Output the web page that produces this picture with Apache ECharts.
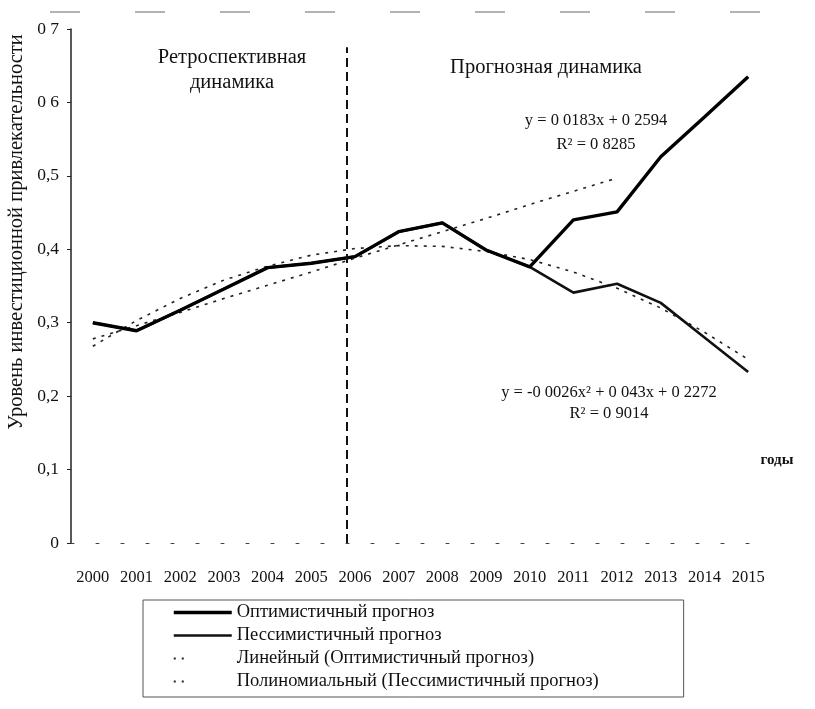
<!DOCTYPE html>
<html>
<head>
<meta charset="utf-8">
<script src="https://cdn.jsdelivr.net/npm/echarts@6/dist/echarts.min.js"></script>
<style>
  html, body { margin: 0; padding: 0; background: #fff; }
  #chart { width: 815px; height: 709px; }
</style>
</head>
<body>
<div id="chart"></div>
<script>
var years = ['2000', '2001', '2002', '2003', '2004', '2005', '2006', '2007',
             '2008', '2009', '2010', '2011', '2012', '2013', '2014', '2015'];
var optimistic = [0.300, 0.289, 0.317, 0.346, 0.375, 0.381, 0.390, 0.424,
                  0.436, 0.399, 0.376, 0.440, 0.451, 0.526, 0.580, 0.635];
var pessimistic = [0.300, 0.289, 0.317, 0.346, 0.375, 0.381, 0.390, 0.424,
                   0.436, 0.399, 0.376, 0.341, 0.353, 0.327, 0.280, 0.233];
// трендовые линии (линейная видна до 2012)
var linearTrend = [0.278, 0.296, 0.314, 0.333, 0.351, 0.369, 0.388, 0.406,
                   0.424, 0.442, 0.461, 0.479, 0.497, null, null, null];
var polyTrend = [0.268, 0.303, 0.333, 0.358, 0.377, 0.392, 0.401, 0.405,
                 0.404, 0.397, 0.386, 0.369, 0.347, 0.320, 0.287, 0.250];
var yTickLabels = ['0', '0,1', '0,2', '0,3', '0,4', '0,5', '0 6', '0 7'];
var seriesNames = ['Оптимистичный прогноз', 'Пессимистичный прогноз',
                   'Линейный (Оптимистичный прогноз)', 'Полиномиальный (Пессимистичный прогноз)'];

var serif = 'Liberation Serif';
var chart = echarts.init(document.getElementById('chart'));

chart.setOption({
    animation: false,
    backgroundColor: '#fff',
    color: ['#111', '#111', '#111', '#111'],
    textStyle: { fontFamily: serif, color: '#111' },
    grid: { left: 71, right: 45, top: 29, bottom: 166 },
    xAxis: [{
        type: 'category',
        data: years,
        boundaryGap: true,
        axisLine: { lineStyle: { color: '#444', width: 1, type: [3, 22] } },
        axisTick: { show: false },
        axisLabel: { fontFamily: serif, fontSize: 16.5, color: '#111', margin: 26, interval: 0 }
    }, {
        // скрытая ось для вертикальной границы периодов
        type: 'value', min: -0.5, max: 15.5, show: false
    }],
    yAxis: {
        type: 'value',
        min: 0,
        max: 0.7,
        interval: 0.1,
        splitLine: { show: false },
        axisLine: { show: true, onZero: false, lineStyle: { color: '#222', width: 1.5 } },
        axisTick: { show: true, length: 4, lineStyle: { color: '#222' } },
        axisLabel: {
            fontFamily: serif, fontSize: 17.5, color: '#111', margin: 12,
            formatter: function (v) { return yTickLabels[Math.round(v * 10)]; }
        }
    },
    legend: {
        orient: 'vertical',
        left: 143,
        top: 600,
        padding: [3, 85, 6, 29],
        itemGap: 4,
        itemWidth: 58,
        itemHeight: 14,
        borderColor: '#555',
        borderWidth: 1,
        itemStyle: { opacity: 0 },
        textStyle: { fontFamily: serif, fontSize: 18.5, lineHeight: 18, color: '#111' },
        data: [
            { name: seriesNames[0], lineStyle: { width: 3.5, color: '#000' } },
            { name: seriesNames[1], lineStyle: { width: 2.5, color: '#111' } },
            { name: seriesNames[2], lineStyle: { type: [2, 6, 2, 200], width: 2 } },
            { name: seriesNames[3], lineStyle: { type: [2, 6, 2, 200], width: 2 } }
        ]
    },
    series: [
        {
            name: seriesNames[2], type: 'line', data: linearTrend, symbol: 'none', z: 1,
            lineStyle: { color: '#222', width: 1.6, type: [3, 6] }
        },
        {
            name: seriesNames[3], type: 'line', data: polyTrend, symbol: 'none', z: 1,
            lineStyle: { color: '#222', width: 1.6, type: [3, 6] }
        },
        {
            name: seriesNames[1], type: 'line', data: pessimistic, symbol: 'none', z: 3,
            lineStyle: { color: '#111', width: 2.6 }
        },
        {
            name: seriesNames[0], type: 'line', data: optimistic, symbol: 'none', z: 4,
            lineStyle: { color: '#000', width: 3.4 }
        },
        {
            type: 'line', xAxisIndex: 1, data: [], symbol: 'none',
            markLine: {
                silent: true, symbol: 'none', label: { show: false },
                lineStyle: { color: '#111', width: 2, type: [9, 5] },
                data: [[{ coord: [5.82, 0] }, { coord: [5.82, 0.675] }]]
            }
        }
    ],
    graphic: [
        {
            type: 'text', x: 17, y: 232, rotation: Math.PI / 2,
            style: {
                text: 'Уровень инвестиционной привлекательности',
                font: '20.5px "Liberation Serif"', fill: '#111',
                textAlign: 'center', textVerticalAlign: 'middle'
            }
        },
        {
            type: 'text', x: 232, y: 70,
            style: {
                text: 'Ретроспективная\nдинамика', lineHeight: 25,
                font: '20.5px "Liberation Serif"', fill: '#111',
                textAlign: 'center', textVerticalAlign: 'middle'
            }
        },
        {
            type: 'text', x: 546, y: 68,
            style: {
                text: 'Прогнозная динамика',
                font: '20.5px "Liberation Serif"', fill: '#111',
                textAlign: 'center', textVerticalAlign: 'middle'
            }
        },
        {
            type: 'text', x: 596, y: 133,
            style: {
                text: 'y = 0 0183x + 0 2594\nR² = 0 8285', lineHeight: 24,
                font: '16.5px "Liberation Serif"', fill: '#111',
                textAlign: 'center', textVerticalAlign: 'middle'
            }
        },
        {
            type: 'text', x: 609, y: 403,
            style: {
                text: 'y = -0 0026x² + 0 043x + 0 2272\nR² = 0 9014', lineHeight: 21,
                font: '16.5px "Liberation Serif"', fill: '#111',
                textAlign: 'center', textVerticalAlign: 'middle'
            }
        },
        {
            type: 'text', x: 777, y: 460,
            style: {
                text: 'годы',
                font: 'bold 15px "Liberation Serif"', fill: '#111',
                textAlign: 'center', textVerticalAlign: 'middle'
            }
        },
        {
            type: 'line', shape: { x1: 50, y1: 12, x2: 815, y2: 12 },
            style: { stroke: '#666', lineWidth: 1, lineDash: [30, 55] }
        }
    ]
});
</script>
</body>
</html>
